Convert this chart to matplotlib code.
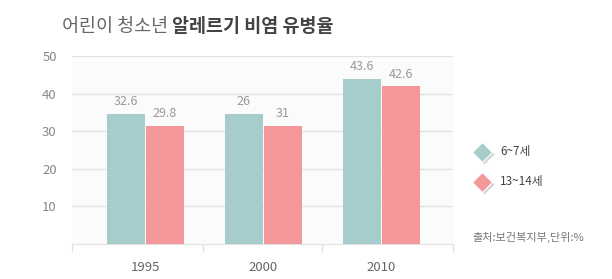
import matplotlib
matplotlib.use('Agg')
import numpy as np
import matplotlib.pyplot as plt

plt.rcParams['font.family'] = ['Noto Sans CJK KR', 'DejaVu Sans']

# data
years = ['1995', '2000', '2010']
series_names = ['6~7세', '13~14세']
kids = [34.6, 34.6, 43.9]        # bar heights as drawn
teens = [31.4, 31.4, 42.0]
kids_labels = ['32.6', '26', '43.6']   # printed values
teens_labels = ['29.8', '31', '42.6']
yticks = [10, 20, 30, 40, 50]

TEAL = '#a6cccb'
PINK = '#f4979b'
GRID = '#e2e2e2'

W, H = 612, 279
fig = plt.figure(figsize=(W / 100, H / 100), dpi=100)
ax = fig.add_axes([72 / W, 1 - 244 / H, (453 - 72) / W, (244 - 56) / H])
ax.set_facecolor('#fbfbfb')

x = np.arange(len(years))
bw = 0.322
b1 = ax.bar(x - bw / 2 - 0.004, kids, bw, color=TEAL, zorder=3)
b2 = ax.bar(x + bw / 2 + 0.004, teens, bw, color=PINK, zorder=3)

for bars, labels in ((b1, kids_labels), (b2, teens_labels)):
    for rect, lab in zip(bars, labels):
        ax.annotate(lab, (rect.get_x() + rect.get_width() / 2, rect.get_height()),
                    xytext=(0, 4), textcoords='offset points',
                    ha='center', va='bottom', fontsize=9, color='#999999')

ax.set_xlim(-0.62, 2.61)
ax.set_ylim(0, 50)
ax.set_yticks(yticks)
ax.set_yticklabels([str(t) for t in yticks])
ax.yaxis.grid(True, color=GRID, lw=1, zorder=0)
ax.tick_params(axis='y', length=0, pad=11, labelsize=9.5, labelcolor='#888888')

ax.set_xticks(x)
ax.set_xticklabels(years)
ax.tick_params(axis='x', length=0, pad=12, labelsize=9.5, labelcolor='#666666')
ax.set_xticks([-0.62, 0.49, 1.50, 2.61], minor=True)
ax.tick_params(axis='x', which='minor', length=6, color=GRID, width=1)

for s in ('top', 'right', 'left'):
    ax.spines[s].set_visible(False)
ax.spines['bottom'].set_color(GRID)

# title
t1 = fig.text(62 / W, 1 - 27 / H, '어린이 청소년 ', fontsize=13.3, color='#666666',
              ha='left', va='center', weight='light')
fig.canvas.draw()
bb = t1.get_window_extent()
fig.text(bb.x1 / W, 1 - 27 / H, '알레르기 비염 유병율', fontsize=13.3, color='#444444',
         ha='left', va='center', weight='bold')

# legend and source, drawn in pixel space
ov = fig.add_axes([0, 0, 1, 1], facecolor='none')
ov.set_xlim(0, W)
ov.set_ylim(H, 0)
ov.axis('off')
for yy, col, name in ((152, TEAL, series_names[0]), (182, PINK, series_names[1])):
    ov.plot([483.5], [yy + 1.5], marker='D', ms=10, color='#d4d4d4', mec='none')
    ov.plot([482], [yy], marker='D', ms=10, color=col, mec='white', mew=0.8)
    ov.text(500, yy, name, fontsize=8.5, color='#444444', va='center', ha='left')
ov.text(472, 237, '출처:보건복지부,단위:%', fontsize=8, color='#777777', va='center', ha='left')

fig.savefig('out.png', dpi=100)
